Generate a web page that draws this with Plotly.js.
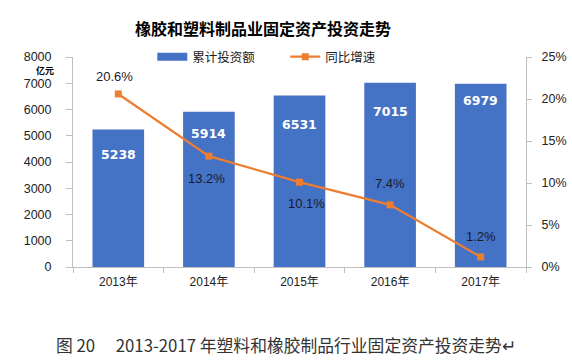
<!DOCTYPE html>
<html>
<head>
<meta charset="utf-8">
<script src="https://cdn.plot.ly/plotly-3.0.1.min.js"></script>
<style>
html,body{margin:0;padding:0;background:#fff;}
#chart{width:572px;height:363px;}
</style>
</head>
<body>
<div id="chart"></div>
<script>
var years = ['2013年', '2014年', '2015年', '2016年', '2017年'];
var investment = [5238, 5914, 6531, 7015, 6979];
var growth = [20.6, 13.2, 10.1, 7.4, 1.2];
var growthLabels = ['20.6%', '13.2%', '10.1%', '7.4%', '1.2%'];

// label placement (styles only)
var barLabelShift = [-25, -22, -29, -29, -17];
var lineLabelShift = [17, -22, -21, 21, 20];
var lineLabelXShift = [-4, -2, 7, 0, 0];

var cjk = '"Liberation Sans", "Noto Sans CJK SC", sans-serif';

var traces = [
  {
    type: 'bar', x: years, y: investment, name: '累计投资额',
    marker: {color: '#4472C4'}, hoverinfo: 'skip', showlegend: false
  },
  {
    // legend entry only (wide rectangle key like the reference)
    type: 'scatter', mode: 'lines', x: [null], y: [null], name: '累计投资额',
    line: {color: '#4472C4', width: 8}, hoverinfo: 'skip', showlegend: true
  },
  {
    type: 'scatter', mode: 'lines+markers', x: years, y: growth, yaxis: 'y2',
    name: '同比增速',
    line: {color: '#ED7D31', width: 2.25},
    marker: {symbol: 'square', size: 7, color: '#ED7D31'},
    hoverinfo: 'skip'
  }
];

var annotations = [];
years.forEach(function (yr, i) {
  annotations.push({
    x: yr, y: investment[i], xref: 'x', yref: 'y', text: String(investment[i]),
    showarrow: false, yshift: barLabelShift[i],
    font: {family: '"DejaVu Sans", sans-serif', size: 12.5, color: '#ffffff', weight: 'bold'}
  });
  annotations.push({
    x: yr, y: growth[i], xref: 'x', yref: 'y2', text: growthLabels[i],
    showarrow: false, yshift: lineLabelShift[i], xshift: lineLabelXShift[i],
    font: {family: cjk, size: 13, color: '#1a1a2e'}
  });
});
annotations.push({
  xref: 'paper', yref: 'paper', x: -0.038, y: 0.937, xanchor: 'right', yanchor: 'middle',
  text: '<b>亿元</b>', showarrow: false,
  font: {family: '"Noto Sans CJK SC", sans-serif', size: 9, color: '#000'}
});
annotations.push({
  xref: 'paper', yref: 'paper', x: -0.042, y: -0.37, xanchor: 'left', yanchor: 'middle',
  text: '图 20　 2013-2017 年塑料和橡胶制品行业固定资产投资走势↵', showarrow: false,
  font: {family: '"Noto Sans CJK SC", sans-serif', size: 16.8, color: '#333'}
});

var layout = {
  width: 572, height: 363,
  margin: {l: 73, r: 46, t: 57, b: 96, pad: 0},
  paper_bgcolor: '#ffffff', plot_bgcolor: '#ffffff',
  showlegend: true,
  title: {
    text: '<b>橡胶和塑料制品业固定资产投资走势</b>',
    x: 0.46, xref: 'container', xanchor: 'center', y: 0.935, yref: 'container',
    font: {family: '"Noto Sans CJK SC", sans-serif', size: 16, color: '#000'}
  },
  legend: {
    orientation: 'h', x: 0.175, xanchor: 'left', y: 1.0, yanchor: 'middle',
    font: {family: '"Noto Sans CJK SC", sans-serif', size: 12.5, color: '#222'},
    entrywidth: 88, bgcolor: 'rgba(0,0,0,0)', traceorder: 'normal'
  },
  bargap: 0.43,
  xaxis: {
    type: 'category', showgrid: false, showline: true, linecolor: '#bfbfbf', linewidth: 1,
    ticks: 'outside', tickson: 'boundaries', ticklen: 5, tickcolor: '#bfbfbf',
    ticklabelstandoff: 4,
    tickfont: {family: cjk, size: 12, color: '#222'}, fixedrange: true
  },
  yaxis: {
    range: [0, 8000], dtick: 1000, showgrid: false, zeroline: false,
    showline: true, linecolor: '#bfbfbf', linewidth: 1,
    ticks: 'outside', ticklen: 6, tickcolor: '#bfbfbf', ticklabelstandoff: 12,
    tickfont: {family: cjk, size: 12.5, color: '#222'}, fixedrange: true
  },
  yaxis2: {
    range: [0, 25], dtick: 5, ticksuffix: '%', overlaying: 'y', side: 'right',
    showgrid: false, zeroline: false, showline: true, linecolor: '#bfbfbf', linewidth: 1,
    ticks: 'outside', ticklen: 5, tickcolor: '#bfbfbf', ticklabelstandoff: 7,
    tickfont: {family: cjk, size: 12.5, color: '#222'}, fixedrange: true
  },
  annotations: annotations
};

Plotly.newPlot('chart', traces, layout, {displayModeBar: false, staticPlot: true});
</script>
</body>
</html>
